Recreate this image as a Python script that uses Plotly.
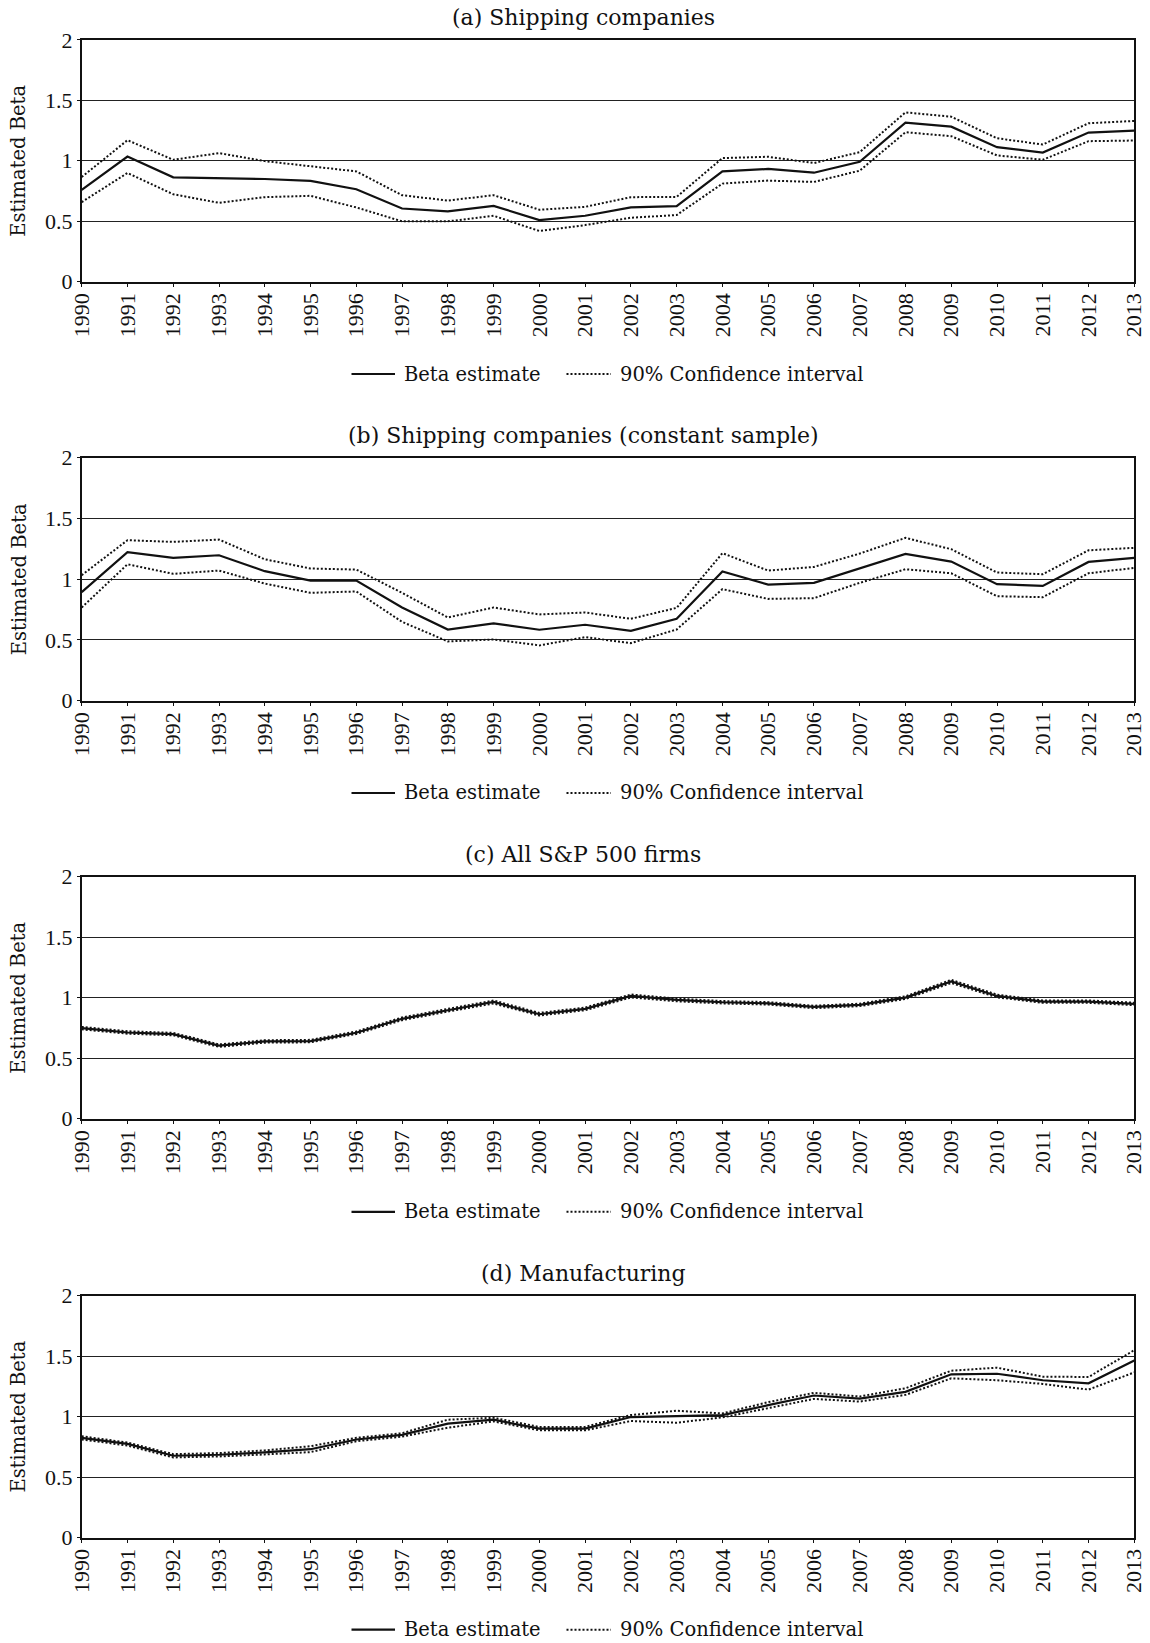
import plotly.graph_objects as go
from plotly.subplots import make_subplots

# ---------------------------------------------------------------
# Rolling beta estimates with 90% confidence bands, 1990-2013
# ---------------------------------------------------------------
years = list(range(1990, 2014))
year_labels = [str(y) for y in years]

panel_titles = [
    "(a) Shipping companies",
    "(b) Shipping companies (constant sample)",
    "(c) All S&P 500 firms",
    "(d) Manufacturing",
]
series_names = ["Beta estimate", "90% Confidence interval"]

# (a) Shipping companies
beta_a = [0.76, 1.035, 0.863, 0.858, 0.849, 0.833, 0.764, 0.605, 0.581, 0.627, 0.51, 0.545,
          0.614, 0.625, 0.912, 0.932, 0.901, 0.992, 1.315, 1.282, 1.112, 1.068, 1.233, 1.249]
upper_a = [0.866, 1.17, 1.008, 1.063, 0.997, 0.956, 0.912, 0.715, 0.671, 0.715, 0.595, 0.619,
           0.699, 0.701, 1.022, 1.033, 0.981, 1.071, 1.40, 1.364, 1.186, 1.134, 1.31, 1.329]
lower_a = [0.658, 0.899, 0.723, 0.652, 0.699, 0.71, 0.614, 0.499, 0.499, 0.545, 0.419, 0.468,
           0.529, 0.551, 0.811, 0.836, 0.825, 0.918, 1.236, 1.203, 1.044, 1.008, 1.162, 1.167]

# (b) Shipping companies, constant sample
beta_b = [0.893, 1.222, 1.175, 1.197, 1.066, 0.989, 0.989, 0.767, 0.586, 0.636, 0.584, 0.625,
          0.575, 0.674, 1.063, 0.956, 0.97, 1.088, 1.208, 1.145, 0.959, 0.945, 1.142, 1.175]
upper_b = [1.033, 1.321, 1.307, 1.326, 1.164, 1.088, 1.079, 0.888, 0.685, 0.767, 0.71, 0.726,
           0.674, 0.764, 1.214, 1.071, 1.101, 1.211, 1.34, 1.247, 1.055, 1.041, 1.238, 1.258]
lower_b = [0.767, 1.123, 1.044, 1.071, 0.964, 0.888, 0.899, 0.649, 0.488, 0.504, 0.455, 0.523,
           0.474, 0.586, 0.918, 0.838, 0.844, 0.97, 1.082, 1.049, 0.86, 0.852, 1.049, 1.093]

# (c) All S&P 500 firms
beta_c = [0.748, 0.712, 0.699, 0.603, 0.638, 0.641, 0.71, 0.825, 0.896, 0.964, 0.863, 0.907,
          1.014, 0.981, 0.962, 0.953, 0.923, 0.94, 1.0, 1.134, 1.014, 0.967, 0.967, 0.948]
upper_c = [0.758, 0.722, 0.709, 0.613, 0.648, 0.651, 0.72, 0.836, 0.907, 0.976, 0.874, 0.918,
           1.026, 0.992, 0.972, 0.963, 0.933, 0.95, 1.011, 1.147, 1.025, 0.977, 0.977, 0.958]
lower_c = [0.738, 0.702, 0.689, 0.593, 0.628, 0.631, 0.70, 0.814, 0.885, 0.952, 0.852, 0.896,
           1.002, 0.970, 0.952, 0.943, 0.913, 0.93, 0.989, 1.121, 1.003, 0.957, 0.957, 0.938]

# (d) Manufacturing
beta_d = [0.824, 0.774, 0.676, 0.684, 0.703, 0.73, 0.81, 0.848, 0.941, 0.974, 0.9, 0.9,
          0.996, 1.004, 1.012, 1.094, 1.174, 1.149, 1.204, 1.349, 1.354, 1.30, 1.275, 1.464]
upper_d = [0.837, 0.785, 0.689, 0.698, 0.72, 0.755, 0.824, 0.862, 0.974, 0.99, 0.914, 0.914,
           1.012, 1.048, 1.026, 1.119, 1.196, 1.166, 1.234, 1.379, 1.404, 1.33, 1.327, 1.549]
lower_d = [0.81, 0.761, 0.662, 0.67, 0.687, 0.706, 0.796, 0.834, 0.908, 0.96, 0.886, 0.886,
           0.963, 0.949, 0.993, 1.072, 1.146, 1.124, 1.179, 1.316, 1.30, 1.27, 1.223, 1.365]

panels = [
    (beta_a, upper_a, lower_a),
    (beta_b, upper_b, lower_b),
    (beta_c, upper_c, lower_c),
    (beta_d, upper_d, lower_d),
]

W, H = 1150, 1643
TEXT_FONT = "DejaVu Serif"
TICK_FONT = "Liberation Serif"
INK = "#111111"
DOT = "2px,2px"

# vertical placement of each panel in pixels (plot top, plot bottom, title, legend)
plot_top = [39.8, 457.7, 876.7, 1295.6]
plot_bot = [281.7, 700.7, 1118.6, 1537.5]
title_y = [17.8, 435.7, 854.7, 1273.6]
legend_y = [374.0, 793.0, 1211.8, 1629.7]
x_left, x_right = 81.7, 1134.3


def px(p):
    return p / W


def py(p):
    return 1 - p / H


fig = make_subplots(rows=4, cols=1)

for i, (beta, up, lo) in enumerate(panels):
    r = i + 1
    for band in (up, lo):
        fig.add_trace(go.Scatter(
            x=years, y=band, mode="lines", name=series_names[1],
            line=dict(color=INK, width=2, dash=DOT),
            showlegend=False, hoverinfo="skip"), row=r, col=1)
    fig.add_trace(go.Scatter(
        x=years, y=beta, mode="lines", name=series_names[0],
        line=dict(color=INK, width=2.2), showlegend=False), row=r, col=1)

layout_update = {}
for i in range(4):
    xa = "xaxis" if i == 0 else f"xaxis{i + 1}"
    ya = "yaxis" if i == 0 else f"yaxis{i + 1}"
    layout_update[xa] = dict(
        domain=[px(x_left), px(x_right)],
        range=[1990, 2013],
        tickvals=years, ticktext=year_labels, tickangle=-90,
        ticks="outside", ticklen=4, tickwidth=1, tickcolor=INK,
        ticklabelstandoff=-3, ticklabeloverflow="allow",
        showline=True, linecolor=INK, linewidth=1.5, mirror=True,
        showgrid=False, zeroline=False, automargin=False,
        tickfont=dict(family=TICK_FONT, size=22, color=INK),
    )
    layout_update[ya] = dict(
        domain=[py(plot_bot[i]), py(plot_top[i])],
        range=[0, 2], tickvals=[0, 0.5, 1, 1.5, 2],
        ticktext=["0", "0.5", "1", "1.5", "2"],
        ticks="outside", ticklen=3, tickwidth=1, tickcolor=INK,
        ticklabelstandoff=0,
        showline=True, linecolor=INK, linewidth=1.5, mirror=True,
        showgrid=True, gridcolor="#222222", gridwidth=1, zeroline=False,
        automargin=False,
        tickfont=dict(family=TICK_FONT, size=22, color=INK),
    )

annotations = []
shapes = []
# legend geometry (pixels): key start, key end, label start for each entry
legend_keys = [(351.5, 395.0, 402.0), (566.5, 611.0, 618.0)]
for i, t in enumerate(panel_titles):
    annotations.append(dict(
        text=t, x=px(583), y=py(title_y[i]), xref="paper", yref="paper",
        xanchor="center", yanchor="middle", showarrow=False,
        font=dict(family=TEXT_FONT, size=22, color=INK)))
    annotations.append(dict(
        text="Estimated Beta", x=px(19), y=py((plot_top[i] + plot_bot[i]) / 2),
        xref="paper", yref="paper", xanchor="center", yanchor="middle",
        textangle=-90, showarrow=False,
        font=dict(family=TEXT_FONT, size=19.5, color=INK)))
    for k, (k0, k1, lab) in enumerate(legend_keys):
        shapes.append(dict(
            type="line", xref="paper", yref="paper",
            x0=px(k0), x1=px(k1), y0=py(legend_y[i]), y1=py(legend_y[i]),
            line=dict(color=INK, width=2.2 if k == 0 else 2,
                      dash="solid" if k == 0 else DOT)))
        annotations.append(dict(
            text=series_names[k], x=px(lab), y=py(legend_y[i]),
            xref="paper", yref="paper", xanchor="left", yanchor="middle",
            showarrow=False,
            font=dict(family=TEXT_FONT, size=19.5, color=INK)))

fig.update_layout(
    width=W, height=H,
    margin=dict(l=0, r=0, t=0, b=0),
    paper_bgcolor="white", plot_bgcolor="white",
    showlegend=False,
    annotations=annotations, shapes=shapes,
    **layout_update,
)

fig.write_html("out.html")
